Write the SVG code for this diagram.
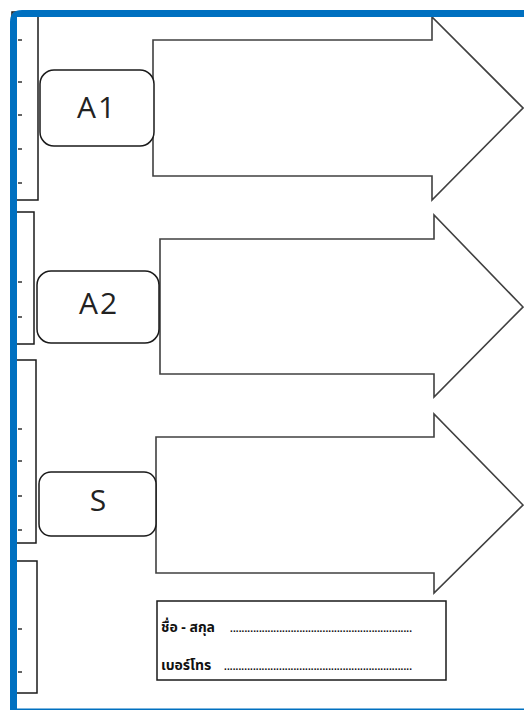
<svg xmlns="http://www.w3.org/2000/svg" width="524" height="711" viewBox="0 0 524 711">
<style>
.strip{fill:#fff;stroke:#1a1a1a;stroke-width:1.5}
.tick{stroke:#333;stroke-width:1.5}
.box{fill:#fff;stroke:#1a1a1a;stroke-width:1.5}
.arrow{fill:#fff;stroke:#404040;stroke-width:1.6;stroke-linejoin:miter}
.lbl{font-family:"Open Sans","Liberation Sans",sans-serif;font-size:30px;fill:#222;text-anchor:middle}
.th{font-family:"Noto Sans","Noto Sans Thai","Loma","Garuda","DejaVu Sans",sans-serif;font-size:14px;font-weight:bold;fill:#111}
.dots{font-family:"Liberation Sans",sans-serif;font-size:10px;font-weight:bold;fill:#111}
</style>
<rect width="524" height="711" fill="#fff"/>
<g id="strips">
<rect class="strip" x="12" y="12" width="26" height="188"/>
<rect class="strip" x="12" y="212" width="22" height="132"/>
<rect class="strip" x="12" y="360" width="24" height="183"/>
<rect class="strip" x="12" y="561" width="25" height="132"/>
<path class="tick" d="M18 40h4M18 82h4M18 115h4M18 149h4M18 183h4M18 282h4M18 317h4M18 429h4M18 461h4M18 496h4M18 530h4M18 629h4M18 672h4"/>
</g>
<g id="connectors">
<path class="arrow" d="M153 40H432V17L523 108L432 200V176H153Z"/>
<path class="arrow" d="M160 239H434V215L523 307L434 397V374H160Z"/>
<path class="arrow" d="M156 437H434V414L523 505L434 593V573H156Z"/>
</g>
<g id="A1"><rect class="box" x="40" y="70" width="114" height="76" rx="14"/><text class="lbl" x="97" y="118" letter-spacing="2">A1</text></g>
<g id="A2"><rect class="box" x="37" y="271" width="122" height="72" rx="14"/><text class="lbl" x="99" y="314" letter-spacing="2">A2</text></g>
<g id="S"><rect class="box" x="39" y="472" width="117" height="64" rx="12"/><text class="lbl" x="98" y="511">S</text></g>
<g id="namebox">
<rect class="box" x="157" y="601" width="289" height="79" stroke-width="1.8"/>
<text class="th" x="161" y="632">ชื่อ - สกุล</text>
<text class="dots" x="230" y="632" textLength="182" lengthAdjust="spacing">...............................................................</text>
<text class="th" x="161" y="670">เบอร์โทร</text>
<text class="dots" x="224" y="670" textLength="188" lengthAdjust="spacing">.................................................................</text>
</g>
<g id="frame">
<path d="M10 710V22Q10 10 22 10H524V17H17V710Z" fill="#0070C0"/>
<rect x="10" y="708.5" width="514" height="1.5" fill="#0070C0"/>
</g>
</svg>
